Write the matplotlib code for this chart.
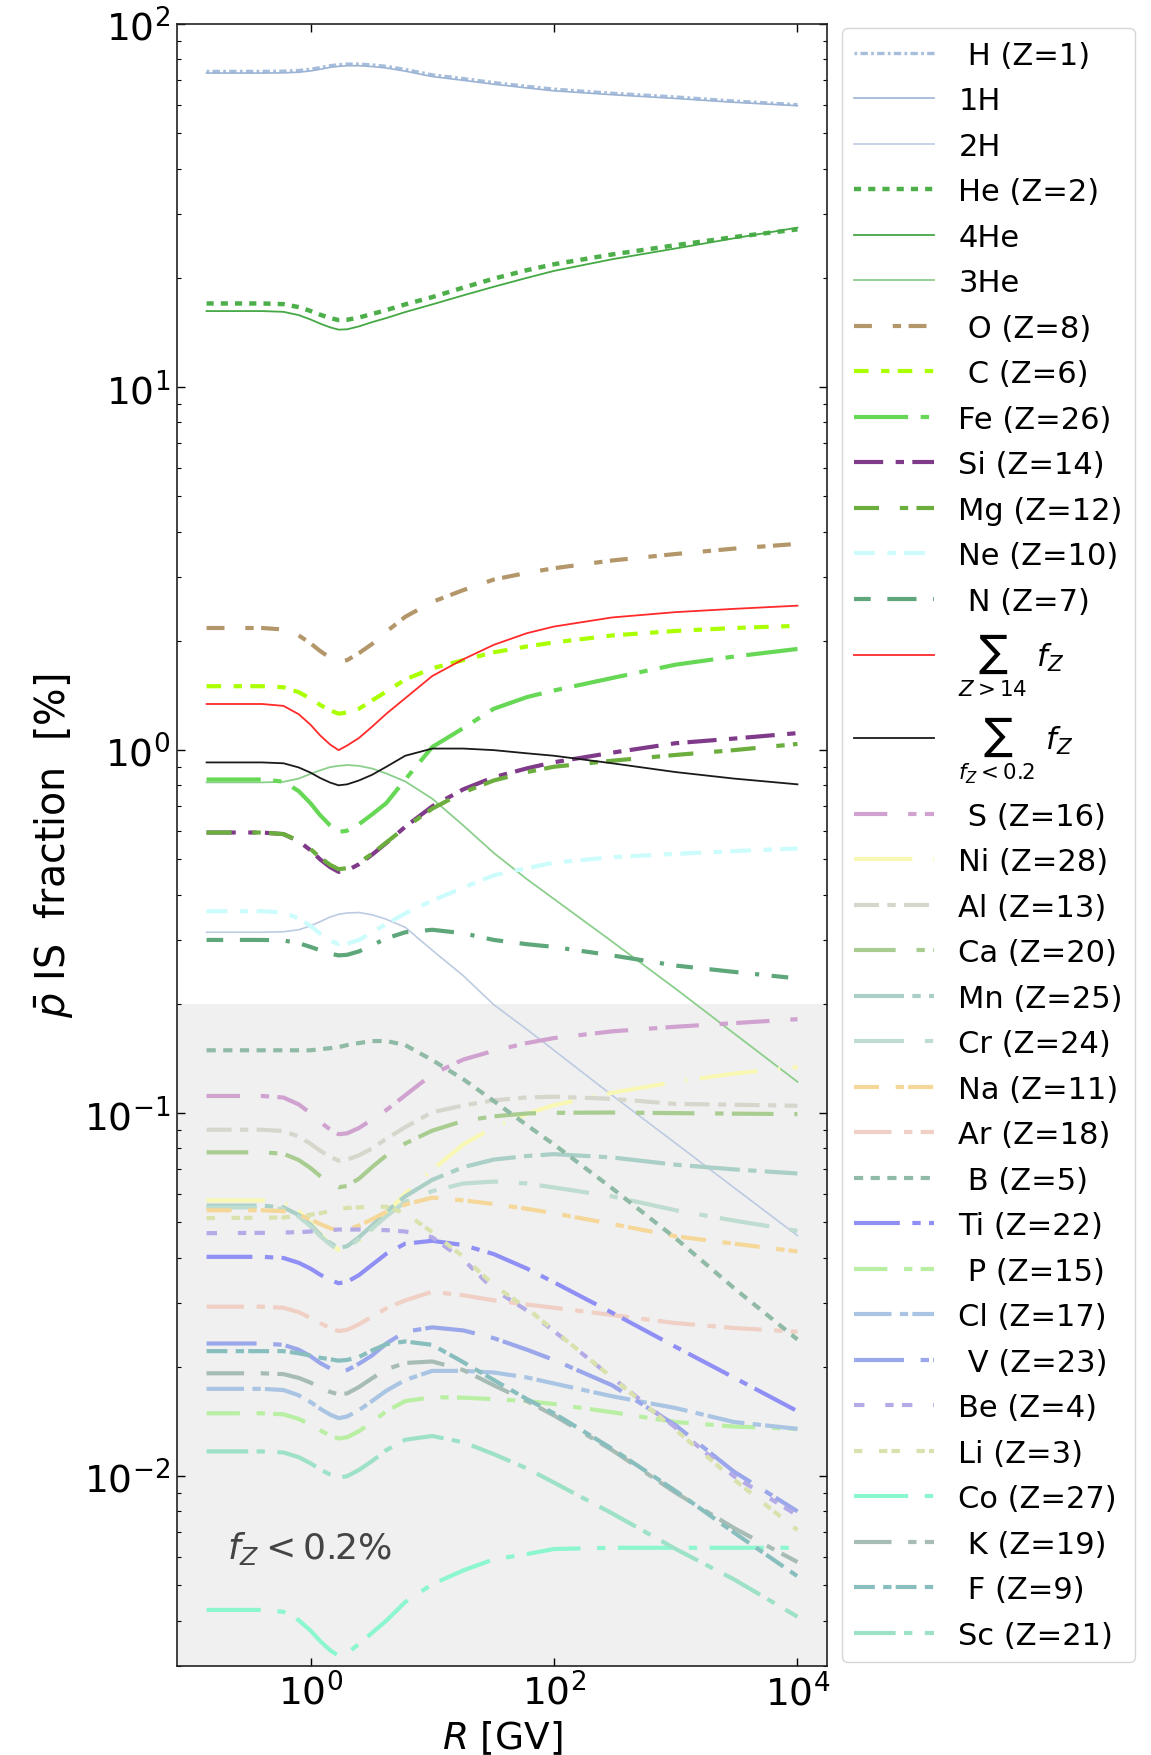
import matplotlib
matplotlib.use('Agg')
import matplotlib.pyplot as plt
import matplotlib.ticker as ticker
import numpy as np

# rigidity grid [GV]
R = [0.14, 0.4, 0.6, 0.8, 1.0, 1.2, 1.45, 1.7, 2.0, 2.5, 3.2, 4.2, 6, 10,
     18, 32, 60, 100, 300, 1000, 3000, 10000]

# IS fractions [%]
H_Z1 = [74.1, 74.1, 74.2, 74.5, 75.1, 75.9, 76.8, 77.3, 77.6, 77.6, 77.2, 76.5, 75.0, 72.5,
        70.8, 69.0, 67.4, 66.2, 64.5, 63.0, 61.4, 60.0]
H1 = [73.3, 73.3, 73.4, 73.7, 74.3, 75.1, 76.0, 76.5, 76.8, 76.8, 76.4, 75.7, 74.2, 71.7,
      70.0, 68.3, 66.7, 65.5, 63.9, 62.4, 60.9, 59.6]
H2 = [0.315, 0.315, 0.316, 0.32, 0.328, 0.337, 0.347, 0.353, 0.356, 0.357, 0.352, 0.342, 0.325, 0.281,
      0.239, 0.199, 0.170, 0.149, 0.112, 0.0826, 0.0624, 0.046]
He_Z2 = [17.0, 17.0, 16.93, 16.61, 16.21, 15.83, 15.50, 15.3, 15.33, 15.55, 15.9, 16.3, 16.9, 17.7,
         18.8, 19.9, 21.0, 21.8, 23.2, 24.6, 25.9, 27.2]
He4 = [16.2, 16.2, 16.12, 15.79, 15.36, 14.96, 14.61, 14.4, 14.43, 14.7, 15.1, 15.5, 16.1, 16.9,
       17.9, 18.9, 20.0, 20.9, 22.5, 24.1, 25.7, 27.5]
He3 = [0.815, 0.815, 0.818, 0.835, 0.86, 0.88, 0.898, 0.905, 0.91, 0.905, 0.89, 0.862, 0.82, 0.735,
       0.62, 0.521, 0.441, 0.389, 0.297, 0.220, 0.166, 0.122]
O_Z8 = [2.17, 2.17, 2.15, 2.07, 1.97, 1.875, 1.796, 1.75, 1.77, 1.85, 1.96, 2.12, 2.33, 2.56,
        2.76, 2.95, 3.08, 3.17, 3.33, 3.47, 3.59, 3.70]
C_Z6 = [1.50, 1.50, 1.49, 1.444, 1.387, 1.332, 1.287, 1.26, 1.27, 1.30, 1.37, 1.45, 1.565, 1.68,
        1.77, 1.86, 1.93, 1.98, 2.07, 2.13, 2.17, 2.20]
Fe_Z26 = [0.83, 0.83, 0.819, 0.771, 0.714, 0.662, 0.620, 0.595, 0.60, 0.625, 0.665, 0.715, 0.83, 1.02,
          1.15, 1.30, 1.40, 1.46, 1.58, 1.72, 1.81, 1.90]
Si_Z14 = [0.593, 0.593, 0.587, 0.561, 0.530, 0.500, 0.476, 0.462, 0.466, 0.485, 0.515, 0.555, 0.615, 0.70,
          0.78, 0.842, 0.891, 0.926, 0.984, 1.045, 1.076, 1.114]
Mg_Z12 = [0.593, 0.593, 0.587, 0.563, 0.534, 0.506, 0.483, 0.47, 0.473, 0.49, 0.518, 0.557, 0.612, 0.69,
          0.765, 0.825, 0.87, 0.90, 0.935, 0.97, 1.0, 1.04]
Ne_Z10 = [0.36, 0.36, 0.357, 0.344, 0.328, 0.312, 0.299, 0.292, 0.293, 0.30, 0.315, 0.332, 0.355, 0.385,
          0.418, 0.452, 0.473, 0.49, 0.507, 0.518, 0.527, 0.536]
N_Z7 = [0.30, 0.30, 0.299, 0.294, 0.287, 0.281, 0.275, 0.272, 0.273, 0.279, 0.290, 0.303, 0.315, 0.32,
        0.313, 0.30, 0.292, 0.287, 0.272, 0.255, 0.245, 0.235]
sum_heavy = [1.34, 1.34, 1.324, 1.256, 1.175, 1.098, 1.036, 1.0, 1.03, 1.08, 1.16, 1.26, 1.39, 1.60,
             1.78, 1.95, 2.10, 2.19, 2.32, 2.40, 2.45, 2.50]
sum_rare = [0.925, 0.925, 0.92, 0.896, 0.867, 0.838, 0.814, 0.80, 0.805, 0.825, 0.855, 0.90, 0.965, 1.01,
            1.01, 1.0, 0.98, 0.965, 0.92, 0.87, 0.835, 0.805]
S_Z16 = [0.1115, 0.1115, 0.1104, 0.1057, 0.100, 0.0946, 0.0901, 0.0875, 0.088, 0.091, 0.096, 0.102, 0.112, 0.128,
         0.1405, 0.1485, 0.156, 0.161, 0.168, 0.173, 0.177, 0.1815]
Ni_Z28 = [0.0575, 0.0575, 0.0568, 0.0537, 0.0499, 0.0464, 0.0436, 0.042, 0.0425, 0.0445, 0.048, 0.053, 0.060, 0.0698,
          0.082, 0.0915, 0.0995, 0.1052, 0.1138, 0.122, 0.1285, 0.134]
Al_Z13 = [0.090, 0.090, 0.0893, 0.0862, 0.0824, 0.0788, 0.0758, 0.074, 0.0745, 0.0765, 0.080, 0.085, 0.0915, 0.1006,
          0.105, 0.1085, 0.1105, 0.111, 0.1095, 0.106, 0.1055, 0.1048]
Ca_Z20 = [0.078, 0.078, 0.0773, 0.0743, 0.0706, 0.0671, 0.0642, 0.0625, 0.063, 0.066, 0.071, 0.0765, 0.0825, 0.0895,
          0.0952, 0.098, 0.0998, 0.1002, 0.1004, 0.100, 0.0997, 0.0994]
Mn_Z25 = [0.0556, 0.0556, 0.055, 0.0524, 0.0493, 0.0463, 0.0439, 0.0425, 0.043, 0.0455, 0.049, 0.0535, 0.059, 0.0655,
          0.071, 0.0745, 0.0762, 0.0771, 0.0755, 0.0721, 0.070, 0.0682]
Cr_Z24 = [0.055, 0.055, 0.0544, 0.0519, 0.0488, 0.0459, 0.0435, 0.042, 0.0425, 0.045, 0.048, 0.052, 0.057, 0.061,
          0.064, 0.0648, 0.064, 0.0624, 0.059, 0.054, 0.0506, 0.0474]
Na_Z11 = [0.054, 0.054, 0.0537, 0.0525, 0.051, 0.0495, 0.0482, 0.0475, 0.0478, 0.049, 0.051, 0.0535, 0.056, 0.0585,
          0.0575, 0.0562, 0.0545, 0.053, 0.0495, 0.0458, 0.0437, 0.0416]
Ar_Z18 = [0.0293, 0.0293, 0.0291, 0.0283, 0.0273, 0.0264, 0.0256, 0.0251, 0.0253, 0.0262, 0.0275, 0.029, 0.0305, 0.0322,
          0.0315, 0.0305, 0.0297, 0.0291, 0.0278, 0.0264, 0.0256, 0.025]
B_Z5 = [0.149, 0.149, 0.149, 0.149, 0.149, 0.150, 0.151, 0.152, 0.154, 0.156, 0.158, 0.158, 0.154, 0.14,
        0.124, 0.108, 0.0926, 0.082, 0.0621, 0.0452, 0.033, 0.0238]
Ti_Z22 = [0.0402, 0.0402, 0.0399, 0.0387, 0.0373, 0.0359, 0.0347, 0.034, 0.0343, 0.0358, 0.0382, 0.041, 0.0437, 0.0445,
          0.0433, 0.0409, 0.0373, 0.0342, 0.0282, 0.0227, 0.0187, 0.0151]
P_Z15 = [0.0149, 0.0149, 0.0148, 0.01438, 0.01387, 0.01337, 0.01294, 0.0127, 0.0128, 0.0133, 0.0141, 0.0151, 0.0161, 0.0165,
         0.01645, 0.0163, 0.0161, 0.0158, 0.015, 0.0141, 0.0137, 0.0135]
Cl_Z17 = [0.0174, 0.0174, 0.01727, 0.0167, 0.016, 0.01534, 0.01477, 0.01445, 0.0146, 0.0152, 0.0161, 0.0172, 0.0184, 0.0195,
          0.0195, 0.0193, 0.0187, 0.018, 0.0166, 0.0154, 0.0141, 0.0135]
V_Z23 = [0.0232, 0.0232, 0.023, 0.0223, 0.0214, 0.0205, 0.0198, 0.0194, 0.0196, 0.0204, 0.0215, 0.0232, 0.025, 0.0257,
         0.0252, 0.024, 0.0223, 0.0209, 0.0178, 0.0138, 0.0103, 0.008]
Be_Z4 = [0.0467, 0.0468, 0.0469, 0.047, 0.0472, 0.0474, 0.0476, 0.0478, 0.0478, 0.0478, 0.0477, 0.0476, 0.0472, 0.0455,
         0.0395, 0.0327, 0.0286, 0.0251, 0.0187, 0.0136, 0.0100, 0.0078]
Li_Z3 = [0.0514, 0.0515, 0.0516, 0.052, 0.0525, 0.053, 0.0537, 0.0545, 0.0548, 0.055, 0.0553, 0.0552, 0.053, 0.047,
         0.0402, 0.0336, 0.029, 0.0252, 0.0187, 0.0134, 0.0098, 0.0071]
Co_Z27 = [0.00428, 0.00428, 0.00423, 0.00401, 0.003755, 0.003513, 0.003314, 0.0032, 0.00325, 0.00345, 0.0037, 0.004, 0.0045, 0.00504,
          0.0055, 0.0059, 0.0061, 0.0063, 0.00635, 0.00635, 0.00635, 0.00635]
K_Z19 = [0.0192, 0.0192, 0.0191, 0.01865, 0.0181, 0.01754, 0.01707, 0.0168, 0.0169, 0.0176, 0.0186, 0.0197, 0.0205, 0.0207,
         0.0196, 0.0178, 0.0161, 0.0147, 0.0118, 0.009, 0.0072, 0.0058]
F_Z9 = [0.0221, 0.0221, 0.0221, 0.0218, 0.0215, 0.0212, 0.021, 0.0208, 0.0209, 0.0213, 0.0222, 0.0231, 0.0235, 0.023,
        0.0206, 0.0184, 0.0163, 0.0149, 0.0119, 0.0091, 0.0070, 0.0053]
Sc_Z21 = [0.0117, 0.0117, 0.01162, 0.01128, 0.01085, 0.01044, 0.0101, 0.0099, 0.01, 0.0104, 0.011, 0.0118, 0.0126, 0.0129,
          0.0124, 0.0115, 0.0105, 0.0096, 0.0079, 0.0063, 0.0052, 0.0041]

labels = [' H (Z=1)', '1H', '2H', 'He (Z=2)', '4He', '3He', ' O (Z=8)', ' C (Z=6)',
          'Fe (Z=26)', 'Si (Z=14)', 'Mg (Z=12)', 'Ne (Z=10)', ' N (Z=7)',
          r'$\sum_{Z>14}\ f_Z$', r'$\sum_{f_Z<0.2}\ f_Z$',
          ' S (Z=16)', 'Ni (Z=28)', 'Al (Z=13)', 'Ca (Z=20)', 'Mn (Z=25)', 'Cr (Z=24)',
          'Na (Z=11)', 'Ar (Z=18)', ' B (Z=5)', 'Ti (Z=22)', ' P (Z=15)', 'Cl (Z=17)',
          ' V (Z=23)', 'Be (Z=4)', 'Li (Z=3)', 'Co (Z=27)', ' K (Z=19)', ' F (Z=9)', 'Sc (Z=21)']
series = [H_Z1, H1, H2, He_Z2, He4, He3, O_Z8, C_Z6, Fe_Z26, Si_Z14, Mg_Z12, Ne_Z10, N_Z7,
          sum_heavy, sum_rare, S_Z16, Ni_Z28, Al_Z13, Ca_Z20, Mn_Z25, Cr_Z24, Na_Z11, Ar_Z18,
          B_Z5, Ti_Z22, P_Z15, Cl_Z17, V_Z23, Be_Z4, Li_Z3, Co_Z27, K_Z19, F_Z9, Sc_Z21]

# (colour, linewidth, dashes or None for solid)
styles = [
    ('#a6bddb', 2.4, (0.8, 1.0, 2.2, 1.0)),
    ('#9cb3d4', 1.2, None),
    ('#bccbe2', 1.2, None),
    ('#4daf4a', 3.2, (1.6, 1.6)),
    ('#45a845', 1.3, None),
    ('#8ccf8c', 1.3, None),
    ('#b3976a', 3.0, (4.3, 5, 2, 1.8)),
    ('#aaff00', 3.0, (3.5, 3, 2, 2)),
    ('#66d855', 3.0, (13, 3, 2, 3)),
    ('#803a8a', 3.0, (7, 3, 2, 2)),
    ('#6cae3e', 3.0, (6, 5, 2, 2)),
    ('#ccfcfc', 3.0, (5, 3, 2, 2)),
    ('#5ea77a', 3.0, (4, 4, 7, 4, 1, 3)),
    ('#ff2a2a', 1.3, None),
    ('#1a1a1a', 1.3, None),
    ('#d0a2d0', 3.0, (8, 5, 2, 2)),
    ('#f8f8b4', 3.0, (14, 5, 0.5, 3)),
    ('#d6d6cc', 3.0, (6, 2, 2, 2)),
    ('#a9cc91', 3.0, (10, 5, 2, 2)),
    ('#a9cfc6', 3.0, (12, 2, 2, 2)),
    ('#bedccf', 3.0, (12, 5, 2, 3)),
    ('#f5d799', 3.0, (6, 4, 2, 1)),
    ('#f0d0c4', 3.0, (9, 3, 2, 2)),
    ('#8fbaa5', 3.0, (2.2, 1.8)),
    ('#8f8ff5', 3.0, (11, 3, 2, 2)),
    ('#b9efa2', 3.0, (8, 4, 2, 2)),
    ('#a9c5e3', 3.0, (9, 2, 2, 1)),
    ('#9aa7ea', 3.0, (12, 4, 2, 1)),
    ('#b3aae8', 3.0, (2.5, 5, 2, 2)),
    ('#d9e1ac', 3.0, (2, 4, 2, 1)),
    ('#8cf7cf', 3.0, (13, 4, 2, 3)),
    ('#a7bcb5', 3.0, (9, 4, 2, 2)),
    ('#88bebd', 3.0, (5, 2, 2, 1)),
    ('#9de2c6', 3.0, (10, 2, 2, 3)),
]

fig = plt.figure(figsize=(11.51, 17.56), dpi=100)
ax = fig.add_axes([0.1538, 0.0507, 0.5647, 0.935])

ax.axhspan(1e-4, 0.2, color='#f0f0f0', zorder=0, lw=0)

for vals, lab, (col, lw, dsh) in zip(series, labels, styles):
    line, = ax.plot(R, vals, color=col, lw=lw, label=lab)
    if dsh is not None:
        line.set_dashes(dsh)

ax.set_xscale('log')
ax.set_yscale('log')
ax.set_ylim(3e-3, 100)
ax.margins(x=0.05)

ax.xaxis.set_major_locator(ticker.FixedLocator([1, 100, 1e4]))
ax.xaxis.set_minor_locator(ticker.NullLocator())
ax.xaxis.set_major_formatter(ticker.LogFormatterSciNotation())
ax.yaxis.set_major_locator(ticker.LogLocator(base=10, numticks=20))
ax.yaxis.set_minor_locator(ticker.LogLocator(base=10, subs=np.arange(2, 10), numticks=20))
ax.yaxis.set_minor_formatter(ticker.NullFormatter())

ax.tick_params(which='both', direction='in', top=True, right=True, labelsize=27, pad=5)
ax.tick_params(which='major', length=5.5, width=1.0)
ax.tick_params(which='minor', length=3, width=0.8)
for sp in ax.spines.values():
    sp.set_linewidth(1.2)
    sp.set_color('#222222')

ax.set_xlabel(r'$R$ [GV]', fontsize=27)
ax.set_ylabel(r'$\bar{p}$ IS  fraction  [%]', fontsize=28.5)
ax.yaxis.set_label_coords(-0.155, 0.5)

ax.text(0.077, 0.066, r'$f_Z<0.2\%$', transform=ax.transAxes, fontsize=26,
        color='#444444', va='baseline')

ax.legend(loc='center left', bbox_to_anchor=(1.0, 0.5), fontsize=22,
          handlelength=2.6, borderaxespad=0.5, labelspacing=0.54)

fig.savefig('out.png', dpi=100)
